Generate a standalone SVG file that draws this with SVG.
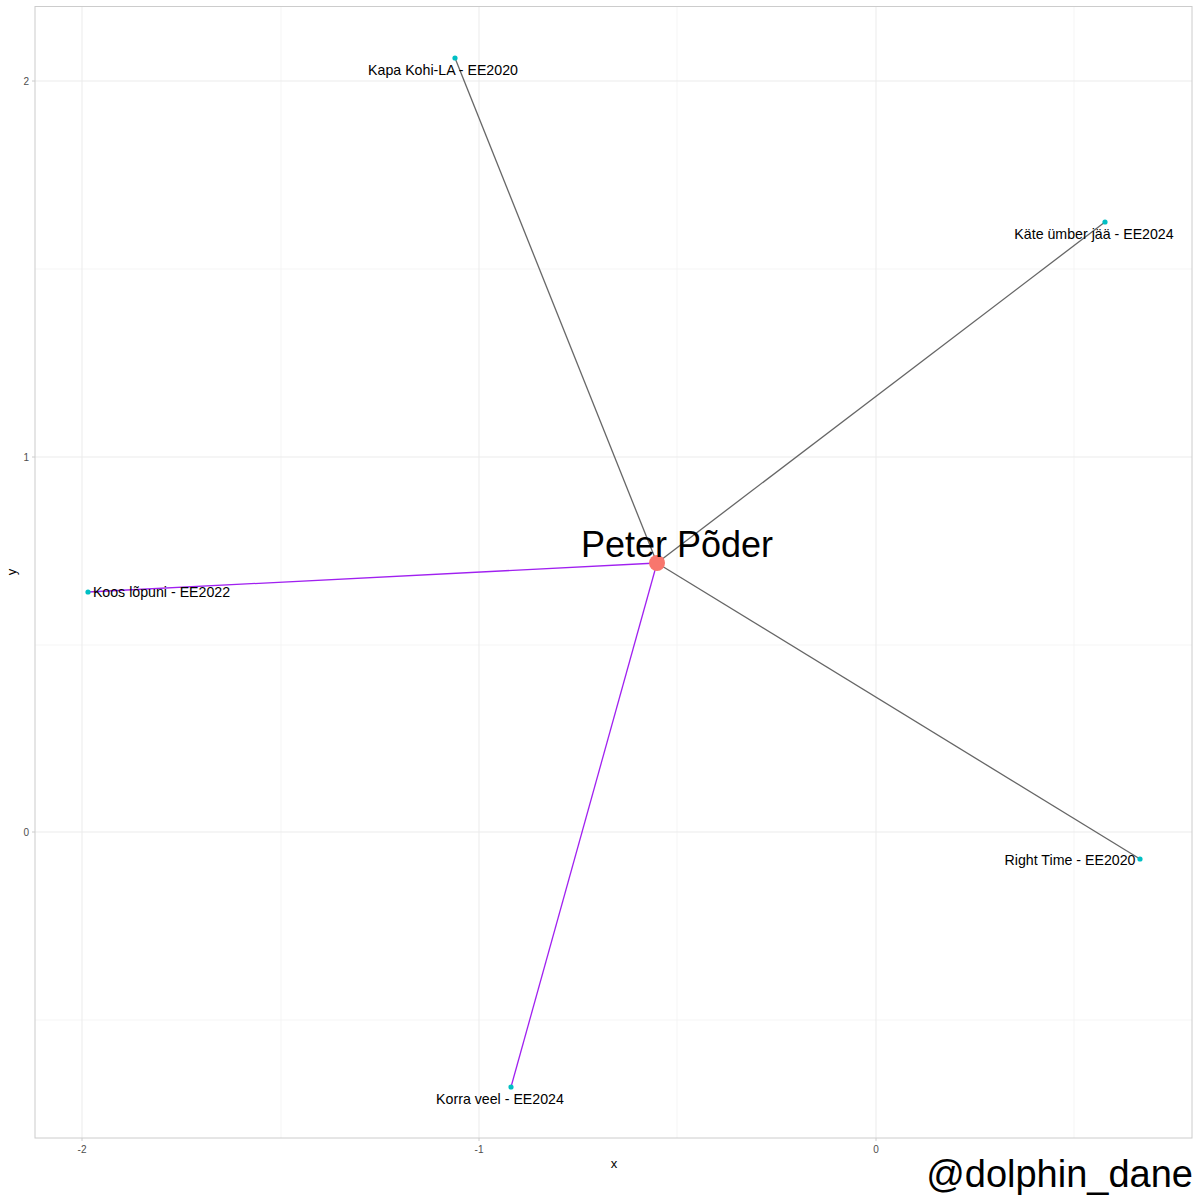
<svg xmlns="http://www.w3.org/2000/svg" width="1200" height="1200" viewBox="0 0 1200 1200">
<style>
.grid{stroke:#ebebeb;stroke-width:1;fill:none}
.gridminor{stroke:#f3f3f3;stroke-width:0.8;fill:none}
.tick{stroke:#cccccc;stroke-width:1}
.axt{font-family:"Liberation Sans",Arial,sans-serif;font-size:10px;fill:#4d4d4d}
.axtitle{font-family:"Liberation Sans",Arial,sans-serif;font-size:13px;fill:#000}
.lbl{font-family:"Liberation Sans",Arial,sans-serif;font-size:14.2px;fill:#000;text-anchor:middle}
.gray{stroke:#666666;stroke-width:1.3;fill:none}
.purple{stroke:#A020F0;stroke-width:1.3;fill:none}
.leaf{fill:#00BFC4}
</style>
<rect width="1200" height="1200" fill="#fff"/>
<g id="panel">
<line class="gridminor" x1="281" y1="6.5" x2="281" y2="1138"/>
<line class="gridminor" x1="677" y1="6.5" x2="677" y2="1138"/>
<line class="gridminor" x1="1074" y1="6.5" x2="1074" y2="1138"/>
<line class="gridminor" x1="35" y1="269" x2="1192" y2="269"/>
<line class="gridminor" x1="35" y1="645" x2="1192" y2="645"/>
<line class="gridminor" x1="35" y1="1020" x2="1192" y2="1020"/>
<line class="grid" x1="82" y1="6.5" x2="82" y2="1138"/>
<line class="grid" x1="479" y1="6.5" x2="479" y2="1138"/>
<line class="grid" x1="876" y1="6.5" x2="876" y2="1138"/>
<line class="grid" x1="35" y1="81" x2="1192" y2="81"/>
<line class="grid" x1="35" y1="457" x2="1192" y2="457"/>
<line class="grid" x1="35" y1="832" x2="1192" y2="832"/>
<rect x="35" y="6.5" width="1157" height="1131.5" fill="none" stroke="#cccccc" stroke-width="1"/>
<line class="tick" x1="82" y1="1138" x2="82" y2="1141"/>
<line class="tick" x1="479" y1="1138" x2="479" y2="1141"/>
<line class="tick" x1="876" y1="1138" x2="876" y2="1141"/>
<line class="tick" x1="32" y1="81" x2="35" y2="81"/>
<line class="tick" x1="32" y1="457" x2="35" y2="457"/>
<line class="tick" x1="32" y1="832" x2="35" y2="832"/>
<text class="axt" x="82" y="1153" text-anchor="middle">-2</text>
<text class="axt" x="479" y="1153" text-anchor="middle">-1</text>
<text class="axt" x="876" y="1153" text-anchor="middle">0</text>
<text class="axt" x="29" y="85" text-anchor="end">2</text>
<text class="axt" x="29" y="461" text-anchor="end">1</text>
<text class="axt" x="29" y="836" text-anchor="end">0</text>
<text class="axtitle" x="614" y="1168" text-anchor="middle">x</text>
<text class="axtitle" x="16" y="572" text-anchor="middle" transform="rotate(-90 16 572)">y</text>
</g>
<g id="edges">
<line class="gray" x1="657" y1="563" x2="455" y2="58"/>
<line class="gray" x1="657" y1="563" x2="1105" y2="222"/>
<line class="gray" x1="657" y1="563" x2="1140" y2="859"/>
<line class="purple" x1="657" y1="563" x2="88" y2="592"/>
<line class="purple" x1="657" y1="563" x2="511" y2="1087"/>
</g>
<g id="node-kapa"><circle class="leaf" cx="455" cy="58" r="2.6"/><text class="lbl" x="443" y="75">Kapa Kohi-LA - EE2020</text></g>
<g id="node-kate"><circle class="leaf" cx="1105" cy="222" r="2.6"/><text class="lbl" x="1094" y="239">Käte ümber jää - EE2024</text></g>
<g id="node-right"><circle class="leaf" cx="1140" cy="859" r="2.6"/><text class="lbl" x="1070" y="865">Right Time - EE2020</text></g>
<g id="node-koos"><circle class="leaf" cx="88" cy="592" r="2.6"/><text class="lbl" x="161.5" y="597">Koos lõpuni - EE2022</text></g>
<g id="node-korra"><circle class="leaf" cx="511" cy="1087" r="2.6"/><text class="lbl" x="500" y="1104">Korra veel - EE2024</text></g>
<g id="node-peter"><circle cx="657" cy="563" r="8" fill="#F8766D"/><text x="677" y="557" font-family="Liberation Sans, Arial, sans-serif" font-size="36" text-anchor="middle" fill="#000">Peter Põder</text></g>
<text x="1193" y="1187" font-family="Liberation Sans, Arial, sans-serif" font-size="38" text-anchor="end" fill="#000">@dolphin_dane</text>
</svg>
